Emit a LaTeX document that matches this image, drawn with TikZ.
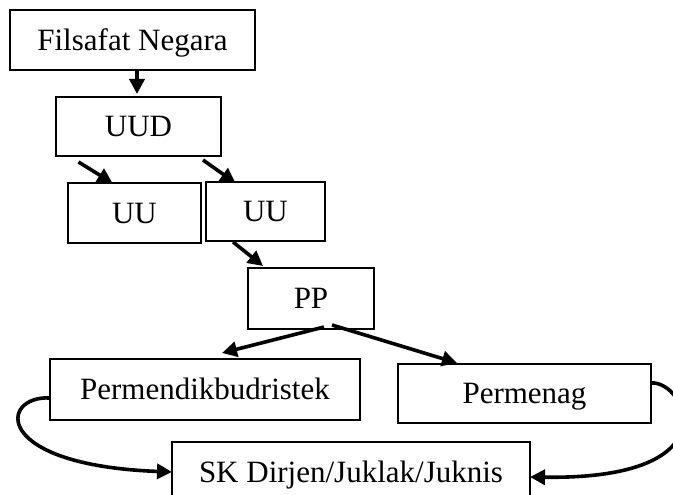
\documentclass[tikz,border=0pt]{standalone}
\usepackage{fontspec}
\setmainfont{Liberation Serif}
\usepackage{tikz}
\usetikzlibrary{calc}
\usetikzlibrary{arrows.meta}
\tikzset{box/.style={shape=rectangle, draw=black, line width=2.2pt, inner sep=0pt, outer sep=0pt, text height=20.5pt, text depth=0pt, font=\fontsize{31}{36}\selectfont}}
\tikzset{arr/.style={-{Triangle[length=15pt,width=15pt]}, line width=3.6pt}}

\begin{document}
\begin{tikzpicture}[x=1pt,y=1pt]
		\useasboundingbox (0,0) rectangle (673,495);
		\node[box, minimum width=245pt, minimum height=60pt] (F) at (132.5,455) {Filsafat Negara};
		\node[box, minimum width=165pt, minimum height=59pt] (U) at (138.5,368.5) {UUD};
		\node[box, minimum width=133pt, minimum height=60pt] (UUa) at (134.5,282) {UU};
		\node[box, minimum width=119pt, minimum height=59pt] (UUb) at (265.5,283.5) {UU};
		\node[box, minimum width=126pt, minimum height=61pt] (PP) at (311,196.5) {PP};
		\node[box, minimum width=310pt, minimum height=61pt] (PM) at (205,105.5) {Permendikbudristek};
		\node[box, minimum width=253pt, minimum height=59pt] (PA) at (524.5,101.5) {Permenag};
		\node[box, minimum width=358pt, minimum height=60pt] (SK) at (351,23) {SK Dirjen/Juklak/Juknis};
		\path [arr] ($(F.south)+(4.5,0)$) edge ($(U.north)+(-1.5,3)$);
		\path [arr] ($(U.south)+(-60,-6)$) edge ($(UUa.north)+(-22,0)$);
		\path [arr] ($(U.south)+(64.5,-4)$) edge ($(UUb.north)+(-30,-1)$);
		\path [arr] ($(UUb.south)+(-32.5,-1)$) edge ($(PP.north)+(-48,2)$);
		\path [arr] ($(PP.south)+(13,2)$) edge ($(PM.north)+(17,6)$);
		\path [arr] ($(PP.south)+(21,4)$) edge ($(PA.north)+(-67.5,1)$);
		\draw [arr] ($(PM.west)+(0,-8.5)$) .. controls +(-50,3) and +(-182,7) .. (SK.west);
		\draw [arr] ($(PA.east)+(0,10.5)$) .. controls +(34,3) and +(205,-3) .. ($(SK.east)+(0,-5)$);
	\end{tikzpicture}
\end{document}
